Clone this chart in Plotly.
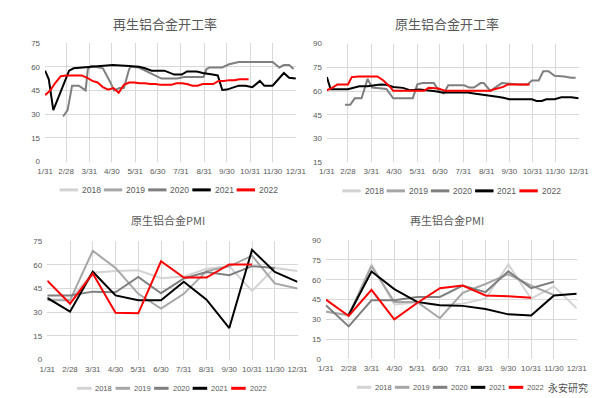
import plotly.graph_objects as go

W, H = 602, 398

YEARS = ["2018", "2019", "2020", "2021", "2022"]
COLORS = {"2018": "#d3d3d3", "2019": "#a6a6a6", "2020": "#7f7f7f",
          "2021": "#000000", "2022": "#ff0000"}

MONTH_LABELS = ["1/31", "2/28", "3/31", "4/30", "5/31", "6/30",
                "7/31", "8/31", "9/30", "10/31", "11/30", "12/31"]
MONTH_DATES = ["01-31", "02-28", "03-31", "04-30", "05-31", "06-30",
               "07-31", "08-31", "09-30", "10-31", "11-30", "12-31"]

# ---------------- 再生铝合金开工率 (weekly) ----------------
rs_rate_2020_dates = ["02-24", "03-02", "03-08", "03-17", "03-26", "03-29", "04-03", "04-12",
                      "04-18", "04-27", "05-03", "05-10", "05-16", "05-23", "05-25", "06-05",
                      "06-13", "06-22", "06-30", "07-05", "07-26", "08-04", "08-30", "09-03",
                      "09-07", "09-24", "10-03", "10-16", "11-30", "12-09", "12-15", "12-22",
                      "12-28"]
rs_rate_2020 = [28.5, 32.5, 48, 48, 45, 58.5, 60.5, 59.5,
                59, 51, 45, 46.5, 46.5, 58.5, 60, 59.5,
                57.5, 55.5, 53.5, 52.5, 52.5, 53.5, 53.5, 58.5,
                59.5, 59.5, 61.5, 63, 63, 59.5, 61, 61,
                58.5]
rs_rate_2021_dates = ["01-31", "02-05", "02-11", "03-04", "03-10", "03-31", "04-15", "05-01",
                      "05-23", "06-05", "06-13", "06-22", "07-09", "07-22", "08-01", "08-08",
                      "08-21", "08-29", "09-11", "09-18", "09-24", "09-30", "10-16", "10-25",
                      "11-03", "11-13", "11-19", "11-30", "12-15", "12-22", "12-31"]
rs_rate_2021 = [57.5, 52, 32.5, 57.5, 59, 60, 60.5, 61,
                60.5, 60, 59, 57.5, 57.5, 55, 55, 57,
                57, 56, 55, 54.5, 45.3, 45.5, 48, 48,
                47, 51, 48, 48, 56, 53, 52.5]
rs_rate_2022_dates = ["01-31", "02-07", "02-14", "02-21", "02-28", "03-07", "03-14", "03-21",
                      "03-28", "04-04", "04-11", "04-18", "04-25", "05-02", "05-09", "05-16",
                      "05-23", "05-30", "06-06", "06-13", "06-20", "06-27", "07-04", "07-11",
                      "07-18", "07-25", "08-01", "08-08", "08-15", "08-22", "08-29", "09-05",
                      "09-12", "09-19", "09-26", "10-03", "10-10", "10-17", "10-24", "10-29"]
rs_rate_2022 = [42, 45, 50, 54, 54.5, 54.5, 54.5, 54.5,
                53, 51, 50, 47, 45.5, 46.5, 43.5, 48.5,
                50, 50, 49.5, 49.5, 49, 49, 48.5, 48.5,
                48.5, 49.5, 49.5, 49, 48, 48, 49, 49,
                49, 51, 51, 51.5, 51.5, 52, 52, 52]

# ---------------- 原生铝合金开工率 (weekly) ----------------
ys_rate_2020_dates = ["02-24", "03-03", "03-09", "03-18", "03-26", "04-01", "04-20", "04-29",
                      "05-25", "05-31", "06-07", "06-22", "06-28", "07-05", "07-11", "08-01",
                      "08-08", "08-14", "08-23", "08-27", "09-05", "09-20", "10-13", "10-24",
                      "10-30", "11-08", "11-14", "11-21", "11-29", "12-12", "12-21", "12-27"]
ys_rate_2020 = [51.3, 51.3, 55.4, 55.4, 67.7, 62.2, 61.3, 55.4,
                55.4, 64.2, 65, 65, 60.5, 58.5, 63.6, 63.6,
                62.2, 62.2, 65, 65, 60.1, 65, 64.2, 64.2,
                66.7, 66.7, 72.5, 72.5, 69.6, 69.2, 68.4, 68.4]
ys_rate_2021_dates = ["01-31", "02-05", "02-28", "03-09", "03-15", "03-26", "04-03", "04-12",
                      "04-20", "04-29", "05-12", "05-21", "06-03", "06-15", "06-24", "07-03",
                      "08-06", "08-14", "08-23", "08-31", "09-14", "09-22", "09-30", "10-30",
                      "11-05", "11-12", "11-18", "11-29", "12-08", "12-21", "12-31"]
ys_rate_2021 = [68.8, 61.1, 61.1, 62, 63, 63, 63.6, 64.2,
                64, 62.6, 62, 60.5, 61, 60.5, 59.9, 59,
                59, 58.5, 58, 57.4, 56.4, 55.8, 54.8, 54.8,
                53.7, 53.7, 54.8, 54.8, 56, 56, 55.4]
ys_rate_2022_dates = ["01-31", "02-07", "02-14", "02-28", "03-05", "03-14", "04-08", "04-16",
                      "04-25", "04-29", "06-09", "06-15", "06-28", "07-07", "09-05", "09-09",
                      "09-22", "09-28", "10-27"]
ys_rate_2022 = [60.5, 62, 64.2, 64.2, 68.8, 69.2, 69.2, 66.7,
                62.6, 60.1, 60.1, 62, 61.6, 60.1, 60.1, 61,
                62.6, 64.2, 64.2]

# ---------------- 原生铝合金PMI (monthly) ----------------
ys_pmi = {
    "2018": [38, 38, 55, 56, 56.5, 51.5, 52.5, 57.5, 59, 43.5, 58, 56],
    "2019": [37.5, 37.5, 68.8, 58, 41.6, 32.3, 41.6, 56, 59, 65.7, 48.2, 45],
    "2020": [40.6, 40.6, 43, 42.6, 52.3, 42, 51.3, 55.4, 53.4, 59.1, 58, None],
    "2021": [39, 30.3, 55.6, 40.6, 37.5, 37.5, 49.2, 37.9, 20, 69.4, 55.4, 49.2],
    "2022": [49.9, 35.4, 54.4, 29.7, 29.3, 62.2, 51.9, 51.9, 60.2, 60.2, None, None],
}

# ---------------- 再生铝合金PMI (monthly) ----------------
rs_pmi = {
    "2018": [36, 33, 71.6, 41.3, 42.8, 40.8, 42, 45.7, 71.6, 45.7, 55, 38.4],
    "2019": [35.9, 33.4, 70.3, 43.3, 43.3, 31, 50.2, 56.8, 64.2, 55.6, 48.5, None],
    "2020": [40.8, 24.8, 44.5, 44.5, 47, 47, 55.6, 50.7, 66.4, 53.6, 58.5, None],
    "2021": [None, 33.4, 66.2, 53, 43.3, 40.8, 40.3, 37.9, 33.9, 33, 48.2, 49.4],
    "2022": [45, 32.7, 52.4, 30.2, 42.5, 53.6, 55.6, 48.2, 47.5, 46.5, None, None],
}

BASE_YEAR = "2021-"

# ---------------- layout geometry (pixels) ----------------
panels = [
    dict(xa="x", ya="y", x0=30, x1=289, yt=31.7, yb=153, yr=[0, 75], title="再生铝合金开工率",
         tx=154, ty=12, ts=13, lx=45, ly=182, sp=45.7, ll=19, lf=8.5, kind="date"),
    dict(xa="x2", ya="y2", x0=321, x1=581, yt=32.3, yb=153.7, yr=[15, 90], title="原生铝合金开工率",
         tx=445, ty=12, ts=13, lx=337, ly=183, sp=45.7, ll=19, lf=8.5, kind="date"),
    dict(xa="x3", ya="y3", x0=32.3, x1=290.7, yt=234.3, yb=355.7, yr=[0, 75], title="原生铝合金PMI",
         tx=157, ty=213, ts=11, lx=63, ly=385, sp=39.8, ll=15, lf=7.5, kind="cat"),
    dict(xa="x4", ya="y4", x0=320, x1=579, yt=233.3, yb=355.3, yr=[0, 90], title="再生铝合金PMI",
         tx=445, ty=213, ts=11, lx=352, ly=384, sp=39.2, ll=15, lf=7.5, kind="cat"),
]

TEXT_COLOR = "#595959"
GRID = "#d9d9d9"
FONT = "Liberation Sans Narrow, Liberation Sans, Arial, sans-serif"
CJK = "Noto Sans CJK SC"

fig = go.Figure()


def add_line(xs, ys, year, p):
    fig.add_trace(go.Scatter(
        x=xs, y=ys, mode="lines", name=year, showlegend=False,
        line=dict(color=COLORS[year], width=2),
        xaxis=p["xa"], yaxis=p["ya"], hoverinfo="skip"))


p1, p2, p3, p4 = panels
add_line([BASE_YEAR + d for d in rs_rate_2020_dates], rs_rate_2020, "2020", p1)
add_line([BASE_YEAR + d for d in rs_rate_2021_dates], rs_rate_2021, "2021", p1)
add_line([BASE_YEAR + d for d in rs_rate_2022_dates], rs_rate_2022, "2022", p1)

add_line([BASE_YEAR + d for d in ys_rate_2020_dates], ys_rate_2020, "2020", p2)
add_line([BASE_YEAR + d for d in ys_rate_2021_dates], ys_rate_2021, "2021", p2)
add_line([BASE_YEAR + d for d in ys_rate_2022_dates], ys_rate_2022, "2022", p2)

for yr in YEARS:
    add_line(MONTH_LABELS, ys_pmi[yr], yr, p3)
for yr in YEARS:
    add_line(MONTH_LABELS, rs_pmi[yr], yr, p4)

layout = dict(width=W, height=H, autosize=False,
              margin=dict(l=0, r=0, t=0, b=0),
              paper_bgcolor="white", plot_bgcolor="white",
              showlegend=False, shapes=[], annotations=[])

for p in panels:
    xkey = "xaxis" + p["xa"][1:]
    ykey = "yaxis" + p["ya"][1:]
    xdict = dict(domain=[p["x0"] / W, p["x1"] / W], anchor=p["ya"],
                 showgrid=True, gridcolor=GRID, gridwidth=1,
                 zeroline=False, showline=False, ticks="",
                 tickangle=0,
                 tickfont=dict(size=8, color=TEXT_COLOR, family=FONT),
                 ticklabelstandoff=3, fixedrange=True)
    if p["kind"] == "date":
        xdict.update(type="date", range=[BASE_YEAR + "01-31", BASE_YEAR + "12-31"],
                     tickmode="array", tickvals=[BASE_YEAR + d for d in MONTH_DATES],
                     ticktext=MONTH_LABELS)
    else:
        xdict.update(type="category", categoryorder="array", categoryarray=MONTH_LABELS,
                     range=[0, len(MONTH_LABELS) - 1])
    layout[xkey] = xdict
    layout[ykey] = dict(domain=[1 - p["yb"] / H, 1 - p["yt"] / H], anchor=p["xa"],
                        range=p["yr"], dtick=15, tick0=0,
                        showgrid=True, gridcolor=GRID, gridwidth=1,
                        zeroline=False, showline=False, ticks="",
                        tickfont=dict(size=8, color=TEXT_COLOR, family=FONT),
                        ticklabelstandoff=4, fixedrange=True)
    layout["annotations"].append(dict(
        text=p["title"], xref="paper", yref="paper", x=p["tx"] / W, y=1 - p["ty"] / H,
        xanchor="center", yanchor="middle", showarrow=False,
        font=dict(size=p["ts"], color=TEXT_COLOR, family=CJK)))
    for i, yr in enumerate(YEARS):
        lx0 = p["lx"] + i * p["sp"]
        yy = 1 - p["ly"] / H
        layout["shapes"].append(dict(
            type="line", xref="paper", yref="paper",
            x0=lx0 / W, x1=(lx0 + p["ll"]) / W, y0=yy, y1=yy,
            line=dict(color=COLORS[yr], width=3)))
        layout["annotations"].append(dict(
            text=yr, xref="paper", yref="paper", x=(lx0 + p["ll"] + 2) / W, y=yy,
            xanchor="left", yanchor="middle", showarrow=False,
            font=dict(size=p["lf"], color=TEXT_COLOR, family=FONT)))

# watermark (placed right of the last legend row so it overlaps no other text)
layout["annotations"].append(dict(
    text="永安研究", xref="paper", yref="paper", x=570 / W, y=1 - 384 / H,
    xanchor="center", yanchor="middle", showarrow=False,
    font=dict(size=10, color="#505050", family=CJK)))

fig.update_layout(**layout)
fig.write_html("out.html")
